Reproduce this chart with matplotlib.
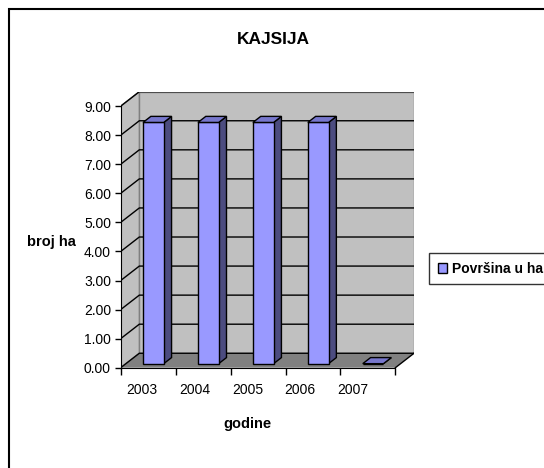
import matplotlib
matplotlib.use("Agg")
import matplotlib.pyplot as plt
from matplotlib.patches import Polygon, Rectangle

plt.rcParams['font.family'] = ['Liberation Sans', 'DejaVu Sans']

# data
years = ['2003', '2004', '2005', '2006', '2007']
area = [8.3, 8.3, 8.3, 8.3, 0.0]
series_name = 'Površina u ha'
yticks = list(range(10))

# fake 3d geometry (data units)
dx, dy = 0.339, 0.497      # depth offset of the back wall
f0, f1 = 0.28, 0.70        # bar front / back depth fraction
bw = 0.377

front_col = '#9999FF'
top_col = '#7777CC'
side_col = '#4C4C80'
wall_col = '#C0C0C0'
floor_col = '#808080'

fig = plt.figure(figsize=(5.44, 4.68), dpi=100)
ax = fig.add_axes([120.7 / 544, 1 - 367.7 / 468, 293.3 / 544, 276 / 468])
ax.set_xlim(-0.5, 4.5 + dx)
ax.set_ylim(0, 9 + dy)
ax.patch.set_visible(False)

x0, x1 = -0.5, len(years) - 0.5
ymax = yticks[-1]

# walls and floor
ax.add_patch(Polygon([(x0 + dx, dy), (x1 + dx, dy), (x1 + dx, ymax + dy), (x0 + dx, ymax + dy)],
                     closed=True, fc=wall_col, ec='#808080', lw=1, zorder=0))
ax.add_patch(Polygon([(x0, 0), (x0 + dx, dy), (x0 + dx, ymax + dy), (x0, ymax)],
                     closed=True, fc=wall_col, ec='#808080', lw=1, zorder=0))
ax.add_patch(Polygon([(x0, 0), (x1, 0), (x1 + dx, dy), (x0 + dx, dy)],
                     closed=True, fc=floor_col, ec='none', zorder=0.5))

# gridlines on back wall + side wall
for v in yticks:
    ax.plot([x0, x0 + dx, x1 + dx], [v, v + dy, v + dy], color='black', lw=1, zorder=0.8)
ax.plot([x1, x1 + dx], [0, dy], color='black', lw=1, zorder=0.8)

# bars
xs = [i + f0 * dx for i in range(len(years))]
bars = ax.bar(xs, area, width=bw, bottom=f0 * dy, color=front_col, edgecolor='black',
              lw=1, zorder=3, label=series_name)
for i, v in enumerate(area):
    xl = i - bw / 2
    xr = i + bw / 2
    side = [(xr + f0 * dx, f0 * dy), (xr + f1 * dx, f1 * dy),
            (xr + f1 * dx, v + f1 * dy), (xr + f0 * dx, v + f0 * dy)]
    top = [(xl + f0 * dx, v + f0 * dy), (xr + f0 * dx, v + f0 * dy),
           (xr + f1 * dx, v + f1 * dy), (xl + f1 * dx, v + f1 * dy)]
    ax.add_patch(Polygon(side, closed=True, fc=side_col, ec='black', lw=1, zorder=2.5))
    ax.add_patch(Polygon(top, closed=True, fc=top_col, ec='black', lw=1, zorder=3.5))

# axes
for s in ['top', 'right']:
    ax.spines[s].set_visible(False)
ax.spines['left'].set_bounds(0, ymax)
ax.spines['bottom'].set_bounds(x0, x1)
for s in ['left', 'bottom']:
    ax.spines[s].set_zorder(5)

ax.set_yticks(yticks)
ax.set_yticklabels(['%.2f' % v for v in yticks], fontsize=10)
ax.tick_params(axis='y', length=4, width=1, pad=3)

ax.set_xticks([-0.112 + 0.96 * i for i in range(len(years))])
ax.set_xticklabels(years, fontsize=10)
ax.set_xticks([x0 + i for i in range(len(years) + 1)], minor=True)
ax.tick_params(axis='x', which='major', length=0, pad=11)
ax.tick_params(axis='x', which='minor', length=5, width=1)

fig.text(273 / 544, 1 - 40 / 468, 'KAJSIJA', fontsize=12.5, fontweight='bold',
         ha='center', va='center')
fig.text(247 / 544, 1 - 424 / 468, 'godine', fontsize=10.5, fontweight='bold',
         ha='center', va='center')
fig.text(51 / 544, 1 - 242 / 468, 'broj ha', fontsize=10.5, fontweight='bold',
         ha='center', va='center')

leg = fig.legend(handles=[bars], labels=[series_name], loc='center left',
                 bbox_to_anchor=(429.3 / 544, 1 - 268.8 / 468), frameon=True,
                 fancybox=False, shadow=False, borderaxespad=0,
                 prop={'weight': 'bold', 'size': 10},
                 handlelength=0.7, handleheight=0.7, handletextpad=0.35, borderpad=0.6)
leg.get_frame().set_edgecolor('black')
leg.get_frame().set_linewidth(1)

# outer chart border (cut off at right and bottom)
fig.patches.append(Rectangle((9 / 544, -0.1), 1.2, 1.1 - 9 / 468, transform=fig.transFigure,
                             fill=False, ec='black', lw=1.5))

fig.savefig('out.png', dpi=100)
